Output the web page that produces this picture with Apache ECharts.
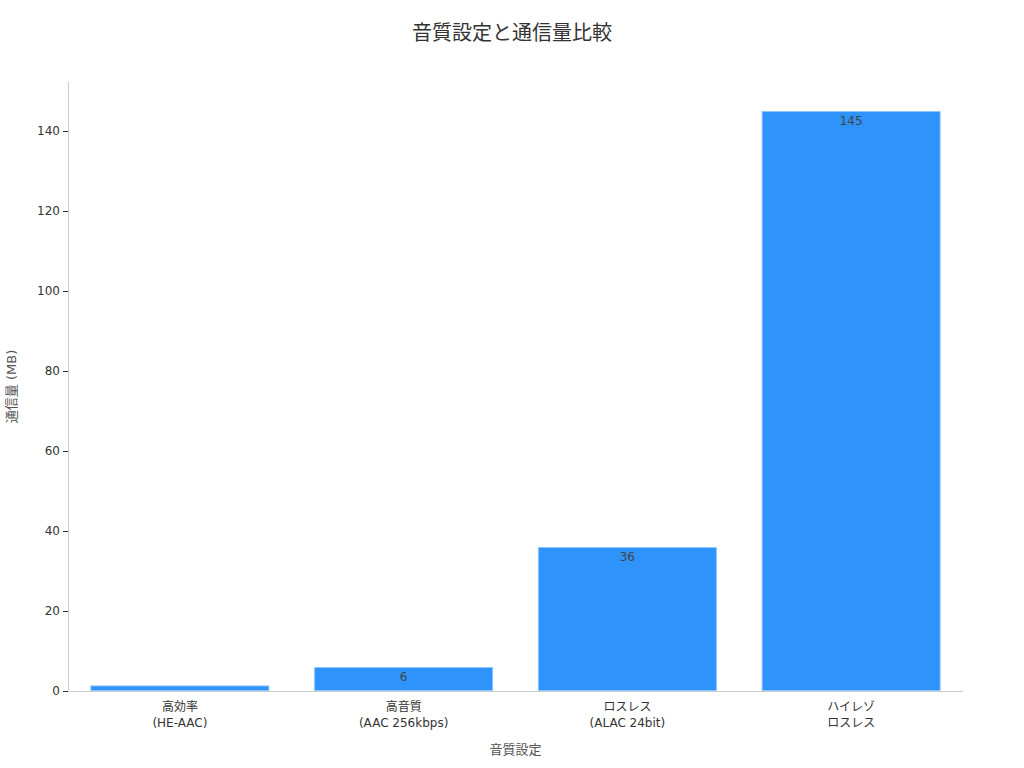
<!DOCTYPE html>
<html>
<head>
<meta charset="utf-8">
<script src="https://cdn.jsdelivr.net/npm/echarts@6/dist/echarts.min.js"></script>
<style>
  html, body { margin: 0; padding: 0; background: #fff; }
  #chart { width: 1024px; height: 768px; }
</style>
</head>
<body>
<div id="chart"></div>
<script>
const categories = ['高効率\n(HE-AAC)', '高音質\n(AAC 256kbps)', 'ロスレス\n(ALAC 24bit)', 'ハイレゾ\nロスレス'];
const usageMB = [1.4, 6, 36, 145];
const hiddenLabels = [true, false, false, false];

const font = '"DejaVu Sans", "Noto Sans CJK JP", sans-serif';
const chart = echarts.init(document.getElementById('chart'), null, { renderer: 'svg' });

chart.setOption({
  textStyle: { fontFamily: font },
  title: {
    text: '音質設定と通信量比較',
    left: 'center',
    top: 18,
    textStyle: { fontSize: 20, fontWeight: 'normal', color: '#333', fontFamily: font }
  },
  grid: { left: 68, right: 61, top: 82, bottom: 77, outerBoundsMode: 'none' },
  xAxis: {
    type: 'category',
    data: categories,
    name: '音質設定',
    nameLocation: 'middle',
    nameGap: 52,
    nameTextStyle: { fontSize: 13, color: '#555' },
    axisLine: { lineStyle: { color: '#ccc' } },
    axisTick: { alignWithLabel: true, lineStyle: { color: '#333' } },
    axisLabel: { fontSize: 12, color: '#333', lineHeight: 16 }
  },
  yAxis: {
    type: 'value',
    min: 0,
    max: 152.25,
    interval: 20,
    name: '通信量 (MB)',
    nameLocation: 'middle',
    nameGap: 50,
    nameTextStyle: { fontSize: 13, color: '#555' },
    splitLine: { show: false },
    axisLine: { show: true, lineStyle: { color: '#ccc' } },
    axisTick: { show: true, length: 5, lineStyle: { color: '#333' } },
    axisLabel: {
      fontSize: 12,
      color: '#333',
      showMaxLabel: false
    }
  },
  series: [{
    type: 'bar',
    barCategoryGap: '20%',
    data: usageMB.map((v, i) => ({
      value: v,
      label: { show: !hiddenLabels[i] }
    })),
    itemStyle: {
      color: '#2E93FA',
      borderColor: '#8cc4fb',
      borderWidth: 1
    },
    label: {
      show: true,
      position: 'insideTop',
      distance: 4,
      fontSize: 12,
      color: '#444'
    }
  }]
});
</script>
</body>
</html>
